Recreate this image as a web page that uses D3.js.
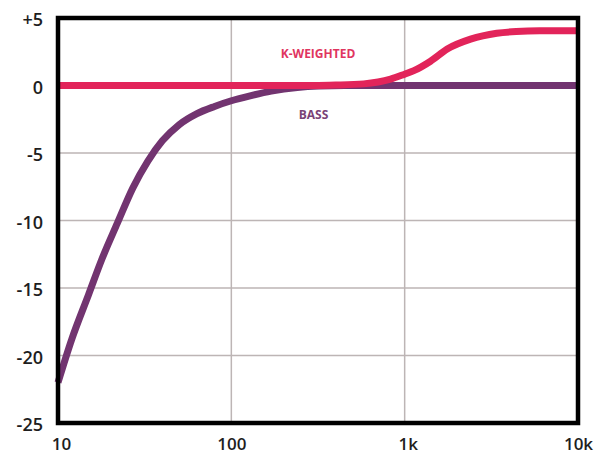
<!DOCTYPE html>
<html><head><meta charset="utf-8">
<script src="https://cdn.jsdelivr.net/npm/d3@7"></script>
<style>
html,body{margin:0;padding:0;background:#fff;}
svg{display:block;font-family:"Open Sans",sans-serif;}
</style></head>
<body><svg id="c" width="605" height="455"></svg>
<script>
const xTicks = [10, 100, 1000, 10000];
const xTickLabels = ["10", "100", "1k", "10k"];
const yTicks = [5, 0, -5, -10, -15, -20, -25];
const yTickLabels = ["+5", "0", "-5", "-10", "-15", "-20", "-25"];

const bassFreq = [10, 12, 15, 18, 22, 27, 33, 40, 50, 63, 80, 100, 130, 170, 240, 320, 450, 1000, 10000];
const bassDb   = [-22, -18.8, -15.5, -12.8, -10.2, -7.6, -5.6, -4.1, -2.9, -2.1, -1.55, -1.13, -0.75, -0.42, -0.15, -0.04, 0, 0, 0];

const kFreq = [10, 100, 300, 400, 580, 830, 1000, 1130, 1410, 1760, 2400, 3400, 4400, 6000, 10000];
const kDb   = [0, 0, 0, 0.03, 0.12, 0.47, 0.84, 1.1, 1.8, 2.7, 3.43, 3.87, 4.0, 4.05, 4.05];

const seriesLabels = ["K-WEIGHTED", "BASS"];

const L = 58, R = 578, T = 18, B = 423;
const svg = d3.select("#c");
const x = d3.scaleLog().domain([10, 10000]).range([L, R]);
const y = d3.scaleLinear().domain([-25, 5]).range([B, T]);

// grid
svg.append("g").selectAll("line").data(xTicks.slice(1, -1)).join("line")
  .attr("x1", d => x(d)).attr("x2", d => x(d)).attr("y1", T).attr("y2", B)
  .attr("stroke", "#bdb5b5").attr("stroke-width", 1.5);
svg.append("g").selectAll("line").data(yTicks.slice(1, -1)).join("line")
  .attr("x1", L).attr("x2", R).attr("y1", d => y(d)).attr("y2", d => y(d))
  .attr("stroke", "#bdb5b5").attr("stroke-width", 1.5);

// axes labels
const xAxis = d3.axisBottom(x).tickValues(xTicks).tickFormat((d, i) => xTickLabels[i]).tickSize(0).tickPadding(0);
const gx = svg.append("g").attr("transform", `translate(0,${B + 27})`).call(xAxis);
gx.select(".domain").remove();
gx.selectAll("text").attr("font-size", 17).attr("font-weight", 600).attr("fill", "#1e1e1e")
  .attr("font-family", "Open Sans").attr("dy", 0).attr("dx", (d, i) => i === 0 ? 3 : (i === 2 ? 3 : 0));

const yAxis = d3.axisLeft(y).tickValues(yTicks).tickFormat((d, i) => yTickLabels[i]).tickSize(0).tickPadding(0);
const gy = svg.append("g").attr("transform", `translate(${L - 15},0)`).call(yAxis);
gy.select(".domain").remove();
gy.selectAll("text").attr("font-size", 18).attr("font-weight", 600).attr("fill", "#1e1e1e")
  .attr("font-family", "Open Sans").attr("dy", "0.42em");

// lines
const line = d3.line().x(d => x(d[0])).y(d => y(d[1])).curve(d3.curveMonotoneX);
const bass = bassFreq.map((f, i) => [f, bassDb[i]]);
const kw = kFreq.map((f, i) => [f, kDb[i]]);

svg.append("path").datum(bass).attr("d", line).attr("fill", "none")
  .attr("stroke", "#723470").attr("stroke-width", 7).attr("stroke-linecap", "butt");
svg.append("path").datum(kw).attr("d", line).attr("fill", "none")
  .attr("stroke", "#e2245a").attr("stroke-width", 7).attr("stroke-linecap", "butt");

// series labels
svg.append("text").attr("x", 318).attr("y", 58).attr("text-anchor", "middle")
  .attr("font-size", 12).attr("font-weight", 700).attr("fill", "#e0355f").text(seriesLabels[0]);
svg.append("text").attr("x", 313.5).attr("y", 119).attr("text-anchor", "middle")
  .attr("font-size", 12).attr("font-weight", 700).attr("fill", "#7a4377").text(seriesLabels[1]);

// frame
svg.append("rect").attr("x", L).attr("y", T).attr("width", R - L).attr("height", B - T)
  .attr("fill", "none").attr("stroke", "#000").attr("stroke-width", 4.5);
</script></body></html>
